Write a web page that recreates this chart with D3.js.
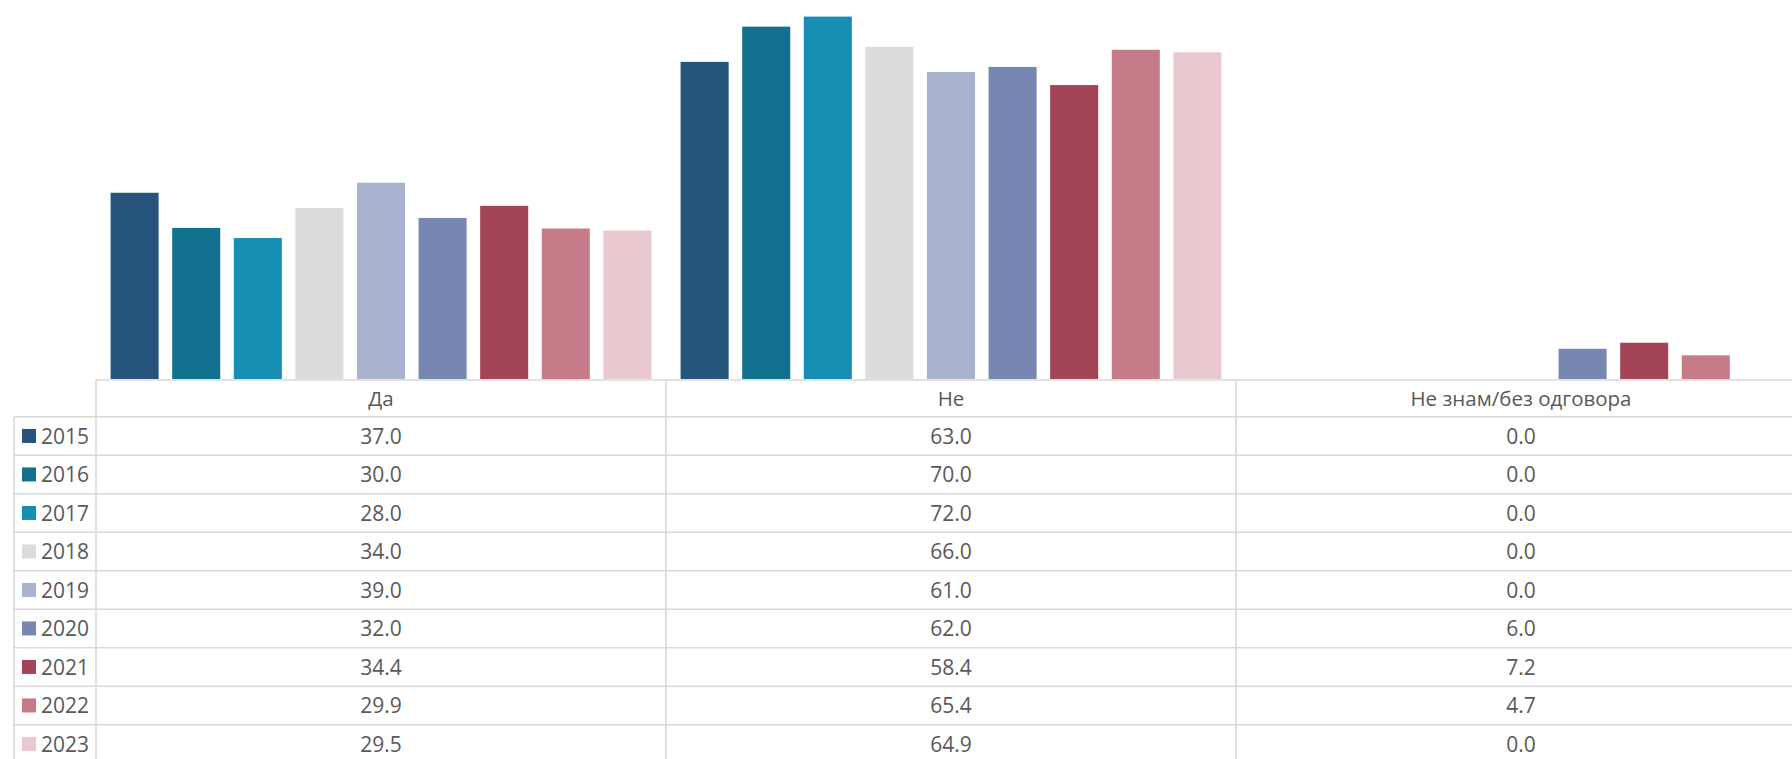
<!DOCTYPE html>
<html><head><meta charset="utf-8">
<script src="https://cdn.jsdelivr.net/npm/d3@7/dist/d3.min.js"></script>
<style>html,body{margin:0;padding:0;background:#fff;overflow:hidden}</style>
</head><body>
<script>
const categories = ["Да", "Не", "Не знам/без одговора"];
const years = ["2015","2016","2017","2018","2019","2020","2021","2022","2023"];
const valuesDa = [37.0, 30.0, 28.0, 34.0, 39.0, 32.0, 34.4, 29.9, 29.5];
const valuesNe = [63.0, 70.0, 72.0, 66.0, 61.0, 62.0, 58.4, 65.4, 64.9];
const valuesNz = [0.0, 0.0, 0.0, 0.0, 0.0, 6.0, 7.2, 4.7, 0.0];
const colors = ["#26547C","#12718F","#168DB3","#DCDCDC","#A9B3CE","#7887B1","#A34556","#C77A87","#E8C9D0"];

const series = [valuesDa, valuesNe, valuesNz];
const W = 1792, H = 759;
const svg = d3.select("body").append("svg").attr("width", W).attr("height", H);

const colW = 570, left = 96;
const x0 = d3.scaleBand().domain(categories).range([left, left + colW * categories.length]).padding(0);
const x1 = d3.scaleBand().domain(years).range([0, x0.bandwidth()]).paddingInner(0.22).paddingOuter(0.237);
const y = d3.scaleLinear().domain([0, 75]).range([379, 1.5]);
const color = d3.scaleOrdinal().domain(years).range(colors);

const data = [];
categories.forEach((c, ci) => years.forEach((yr, yi) => data.push({c, yr, v: series[ci][yi]})));

svg.append("g").selectAll("rect").data(data.filter(d => d.v > 0)).join("rect")
  .attr("x", d => x0(d.c) + x1(d.yr))
  .attr("y", d => y(d.v))
  .attr("width", x1.bandwidth())
  .attr("height", d => y(0) - y(d.v))
  .attr("fill", d => color(d.yr));

// data table
const headerTop = 380, headerBot = 416.7, rowH = 38.5;
const rows = d3.scaleBand().domain(years).range([headerBot, headerBot + rowH * years.length]);
const lineC = "#D9D9D9", lw = 1.6;
const tg = svg.append("g");
const font = "'Open Sans', 'Noto Sans', sans-serif";
const txtC = "#595959";

tg.append("line").attr("x1", left).attr("x2", W).attr("y1", headerTop).attr("y2", headerTop)
  .attr("stroke", lineC).attr("stroke-width", lw);
tg.selectAll("line.h").data(years).join("line").attr("class","h")
  .attr("x1", 14).attr("x2", W)
  .attr("y1", d => rows(d)).attr("y2", d => rows(d))
  .attr("stroke", lineC).attr("stroke-width", lw);
tg.selectAll("line.v").data(categories).join("line").attr("class","v")
  .attr("x1", d => x0(d)).attr("x2", d => x0(d))
  .attr("y1", headerTop).attr("y2", H)
  .attr("stroke", lineC).attr("stroke-width", lw);
tg.append("line").attr("x1", 14).attr("x2", 14).attr("y1", headerBot).attr("y2", H)
  .attr("stroke", lineC).attr("stroke-width", lw);

tg.selectAll("text.hd").data(categories).join("text").attr("class","hd")
  .attr("x", d => x0(d) + x0.bandwidth() / 2)
  .attr("y", (headerTop + headerBot) / 2)
  .attr("text-anchor", "middle").attr("dominant-baseline", "central")
  .attr("font-family", font).attr("font-size", 20.5).attr("fill", txtC)
  .text(d => d);

tg.selectAll("rect.key").data(years).join("rect").attr("class","key")
  .attr("x", 22).attr("y", d => rows(d) + rowH / 2 - 7)
  .attr("width", 14).attr("height", 14).attr("fill", d => color(d));
tg.selectAll("text.yr").data(years).join("text").attr("class","yr")
  .attr("x", 41).attr("y", d => rows(d) + rowH / 2)
  .attr("dominant-baseline", "central")
  .attr("font-family", font).attr("font-size", 21).attr("fill", txtC)
  .text(d => d);

tg.selectAll("text.val").data(data).join("text").attr("class","val")
  .attr("x", d => x0(d.c) + x0.bandwidth() / 2)
  .attr("y", d => rows(d.yr) + rowH / 2)
  .attr("text-anchor", "middle").attr("dominant-baseline", "central")
  .attr("font-family", font).attr("font-size", 21).attr("fill", txtC)
  .text(d => d3.format(".1f")(d.v));
</script>
</body></html>
